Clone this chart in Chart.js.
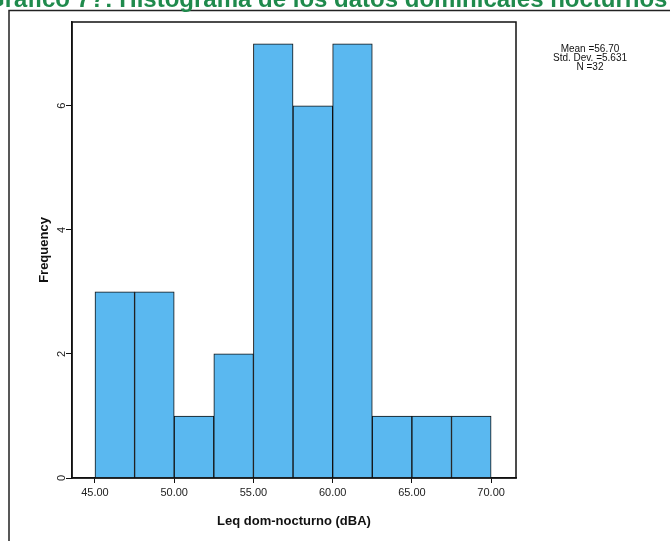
<!DOCTYPE html>
<html lang="es">
<head>
    <meta charset="UTF-8">
    <title>Histograma Leq dom-nocturno</title>
    <script src="https://cdn.jsdelivr.net/npm/chart.js"></script>
    <style>
        body { margin: 0; background: #fff; }
        #wrap { width: 670px; height: 542px; position: relative; }
    </style>
</head>
<body>
<div id="wrap"><canvas id="histo"></canvas></div>
<script>
    // datos del histograma (clases de 2.5 dBA)
    const binCenters = [46.25, 48.75, 51.25, 53.75, 56.25, 58.75, 61.25, 63.75, 66.25, 68.75];
    const frequencies = [3, 3, 1, 2, 7, 6, 7, 1, 1, 1];
    const xTicks = [45, 50, 55, 60, 65, 70];
    const yTicks = [0, 2, 4, 6];
    const statsLines = ['Mean =56.70', 'Std. Dev. =5.631', 'N =32'];
    const chartTitle = 'Gráfico 7?: Histograma de los datos dominicales nocturnos';

    // marco exterior, recuadro del gráfico, título cortado y estadísticos
    const decor = {
        id: 'decor',
        beforeDraw(chart) {
            const ctx = chart.ctx;
            ctx.save();
            ctx.strokeStyle = '#222';
            ctx.lineWidth = 1.5;
            ctx.beginPath();
            ctx.moveTo(9, 541);
            ctx.lineTo(9, 10.5);
            ctx.lineTo(672, 10.5);
            ctx.stroke();
            ctx.fillStyle = '#1f8a4c';
            ctx.font = 'bold 24px "Liberation Sans", Arial, sans-serif';
            ctx.textBaseline = 'alphabetic';
            ctx.fillText(chartTitle, -14, 7);
            ctx.restore();
        },
        afterDraw(chart) {
            const a = chart.chartArea;
            const ctx = chart.ctx;
            ctx.save();
            ctx.strokeStyle = '#111';
            ctx.lineWidth = 1.5;
            ctx.strokeRect(a.left, a.top, a.right - a.left, a.bottom - a.top);
            ctx.fillStyle = '#111';
            ctx.font = '10px "Liberation Sans", Arial, sans-serif';
            ctx.textAlign = 'center';
            ctx.textBaseline = 'middle';
            statsLines.forEach((s, i) => ctx.fillText(s, 590, 49 + i * 9));
            ctx.restore();
        }
    };

    const ctx = document.getElementById('histo').getContext('2d');
    new Chart(ctx, {
        type: 'bar',
        data: {
            datasets: [{
                label: 'Frequency',
                data: binCenters.map((c, i) => ({ x: c, y: frequencies[i] })),
                backgroundColor: '#5ab8f0',
                borderColor: '#111',
                borderWidth: 1,
                barPercentage: 1,
                categoryPercentage: 1
            }]
        },
        options: {
            responsive: true,
            maintainAspectRatio: false,
            animation: false,
            layout: { padding: { left: 0, top: 22, right: 154, bottom: 0 } },
            plugins: {
                legend: { display: false },
                tooltip: { enabled: false }
            },
            scales: {
                x: {
                    type: 'linear',
                    min: 43.55,
                    max: 71.57,
                    offset: false,
                    afterBuildTicks: s => { s.ticks = xTicks.map(v => ({ value: v })); },
                    afterFit: s => { s.height = 64; },
                    grid: { offset: false, drawOnChartArea: false, tickLength: 5, color: '#111' },
                    border: { color: '#111', width: 1.5 },
                    ticks: {
                        color: '#222',
                        padding: 3,
                        maxRotation: 0,
                        font: { family: 'Liberation Sans', size: 11 },
                        callback: v => Number(v).toFixed(2)
                    },
                    title: {
                        display: true,
                        text: 'Leq dom-nocturno (dBA)',
                        color: '#111',
                        padding: { top: 0, bottom: 13 },
                        font: { family: 'Liberation Sans', size: 13, weight: 'bold' }
                    }
                },
                y: {
                    min: 0,
                    max: 7.35,
                    afterBuildTicks: s => { s.ticks = yTicks.map(v => ({ value: v })); },
                    afterFit: s => { s.width = 72; },
                    grid: { drawOnChartArea: false, tickLength: 6, color: '#111' },
                    border: { color: '#111', width: 1.5 },
                    ticks: {
                        color: '#222',
                        padding: 1,
                        minRotation: 90,
                        maxRotation: 90,
                        crossAlign: 'center',
                        font: { family: 'Liberation Sans', size: 11 }
                    },
                    title: {
                        display: true,
                        text: 'Frequency',
                        color: '#111',
                        padding: { top: 37, bottom: 0 },
                        font: { family: 'Liberation Sans', size: 13, weight: 'bold' }
                    }
                }
            }
        },
        plugins: [decor]
    });
</script>
</body>
</html>
